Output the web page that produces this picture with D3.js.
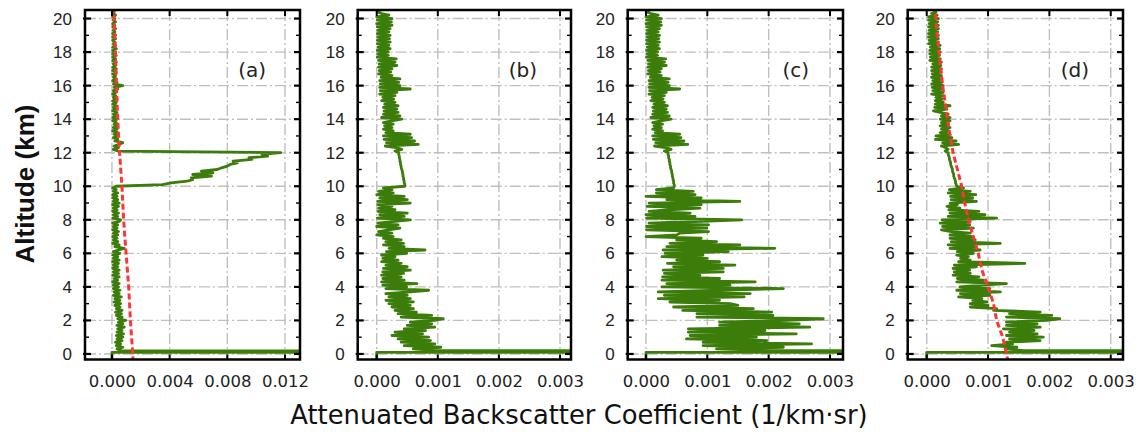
<!DOCTYPE html>
<html><head><meta charset="utf-8">
<script src="https://cdn.jsdelivr.net/npm/d3@7"></script>
<style>body{margin:0;background:#fff}</style>
</head><body>
<svg id="c" width="1138" height="434"></svg>
<script>
// ---------------- data ----------------
const yTicks = [0, 2, 4, 6, 8, 10, 12, 14, 16, 18, 20];
const xTicksA = [0, 0.004, 0.008, 0.012];
const xTicksBCD = [0, 0.001, 0.002, 0.003];
const panelLabels = ["(a)", "(b)", "(c)", "(d)"];
const xTitle = "Attenuated Backscatter Coefficient (1/km\u00B7sr)";
const yTitle = "Altitude (km)";

// profile values are in units of 1e-4 /km/sr, on range bins starting at 0.2 km, 0.1 km apart
const UNIT = 1e-4;
const binStart = 0.2, binStep = 0.1;
// surface return (altitude km, value in UNIT)
const surfaceAlt = [-0.5, 0.1, 0.1];
const surfaceVal = [0, 0, 600];

const profileA = [
  6.5,3.5,7.5,3,6,2.5,7,3.5,
  7.5,3,8,3.5,7,4,8.5,3.5,7.5,4.5,
  9.5,4,7,3,6.5,2.5,7,3,5.5,2,
  6,1.5,5.5,2,6.5,1,5,1.5,5.5,1,
  4.5,1,5,0.5,4,1.5,5,0.5,4.5,1,
  5,0.5,4,1,4.5,0.5,5,1,4,0.5,
  5.5,1,4.5,8.5,2,5,0.5,4,1,3.5,
  0.5,4,1,4.5,0.5,3.5,1,4,0.5,5,
  6,0.5,4,1,4.5,0.5,3.5,1,4.5,0.5,
  5,1,4,0.5,3.5,0.5,4,1,3,0.5,
  3,35,41,52,56,55,69,56,70,62,
  73,76,80,82,87,84,97,95,108,104,
  117,4,1,4.5,1.5,5,7.5,2,4,1,
  4.5,1.5,4,0.5,3.5,1,4,1.5,3,0.5,
  3.5,0.5,3,1,3.5,0.5,2.5,1,3,0.5,
  3,0.5,3.5,1,2.5,0.5,3,1,4,1.5,
  7.5,1,3.5,0.5,3,1,2.5,0.5,3,0.5,
  3,0.5,2.5,1,3,0.5,2.5,0.5,3,0.5,
  2.5,0.5,3,0.5,2.5,1,2,0.5,2.5,0.5,
  2.5,0.5,2,1,2.5,0.5,2,0.5,2.5,1,
  2,0.5,2.5,1,1.5,1
];

const profileBLow = [
  10,6,10.5,4.5,9.5,4,8.8,3.5,
  8.5,2.5,7.5,3,8,4.5,9.5,5,9,5.5,
  9.5,10.9,4,9,3.5,6.5,3,6,2.5,5.5,
  2,6,1.5,5.5,2,5,1.5,5.5,8.5,1.5,
  4.9,1,6.6,0.8,4.5,1,4,0.8,4.4,1,
  5.5,1.1,5,1.5,4,0.8,3.5,1,3,0.8,
  4.9,1.6,7.9,2,4.5,1.1,4.4,1.5,4,1.1,
  2.7,0,2.5,0.3,2,3.8,0,3.5,0.2,3,
  5.5,0.1,4.5,0.5,5,0.2,3,0.3,2.5,0.2,
  5.5,0.2,5,0.5,4.5,0,2.7,0.3,2.5,1.1
];

const profileBCUpper = [
  4.6,4.6,4.5,4.5,4.4,4.4,4.3,4.3,4.2,4.2,
  4.1,4.0,4.0,3.9,3.9,3.8,3.8,3.7,3.7,3.6,
  3.6,3.0,4.1,3.2,1.4,6.8,1.6,6.2,1.2,5.7,
  1.1,5.5,1.5,2.7,1.1,2.5,1.3,2.7,1.1,2.4,
  4.1,0.8,3.8,1.1,3.5,1.2,3.3,1.1,3.5,1.3,
  3.0,0.8,2.8,1.0,3.0,0.5,3.3,0.6,5.5,0.5,
  3.8,0.6,3.6,0.5,3.8,0.7,2.5,0.3,2.3,0.4,
  2.5,0.3,3.3,0.4,3.0,0.3,3.2,0.1,1.9,0.2,
  1.9,0.1,2.2,0.2,2.0,0.1,2.2,0.1,2.1,0.2,
  2.2,0.1,2.0,0.2,2.2,0.1,2.5,0,2.4,0.1,
  2.5,0,2.0,0.8,0.1,0.6
];

const profileCLow = [
  20,11.5,22.4,9.3,27,9.3,19.7,6.6,
  18,7.2,24.5,6.9,19.4,6.9,26.7,12,25,12,
  23,28.9,8.3,20.7,8.3,20.5,6,17.5,4.5,15,
  13.7,3.9,12,2,16,3,17,2,12,22.4,
  2.6,13.7,3.4,17.8,2.6,12,2.7,8.8,3,12.6,
  2.8,12.6,4.5,14.5,3.5,12,5,10,2.6,9.3,
  3.1,13.4,2.8,21,3.4,15.3,3.9,11.5,5,9,
  0,5,5.5,10.2,0.1,9.9,0.1,10.2,0.5,8,
  15.6,0.1,8,0,7.2,0.5,3.9,8.8,0.2,9,
  0.5,15.3,3.4,9,0,8,1.7,7.7,1.7,4.5
];

const profileD = [
  15.7,13,14.7,10.6,14,13,18.5,13.5,
  19,13,18,13.5,17.5,12.5,18.5,13,18,13,
  19.5,21.7,13,20.4,13.5,18.5,10.9,11.4,7.1,10,
  7.1,9.8,7.5,9,5.2,10.3,5.5,12,4.9,10.3,
  5.4,9,13,4.9,9.2,5,8.5,4.3,7.1,4.5,
  7,4.3,8.1,4.5,16,5.2,7.1,5.5,6.8,4.9,
  7.6,5,8.7,3.8,8,3.5,12,4,7.9,3.8,
  7.5,3.8,7.1,4,2.4,7.6,2.6,7,2.2,7.1,
  2.5,11.4,3.5,9.5,3.8,8.5,3.6,5.4,3.3,5,
  3.8,8.1,4,7.5,3.9,8,3.5,7.1,3.7,6,
  4.9,4.8,4.7,4.7,4.6,4.5,4.4,4.4,4.3,4.2,
  4.2,4.1,4.0,3.9,3.9,3.8,3.7,3.7,3.6,3.5,
  3.5,3.0,3.5,3.1,2.4,5.2,2.6,4.8,1.4,4.1,
  1.5,3.8,2.2,3.6,2.4,3.8,2.2,3.5,2.4,3.8,
  2.2,3.8,2.4,3.5,2.2,1.1,3.3,1.3,3.8,1.4,
  2.7,1.4,2.5,1.5,2.7,0.8,2.7,1,2.5,0.9,
  2.7,0.8,2.5,1,2.4,0.8,2.4,0.9,2.3,0.8,
  2.4,0.8,2.3,1,2.4,0.5,2.2,0.6,2.1,0.5,
  2.2,0.5,2.1,0.6,2.2,0.3,1.9,0.4,1.9,0.3,
  1.9,0.3,1.8,0.4,1.9,0.3,1.9,0.4,1.8,0.3,
  1.9,0.3,1.7,0.8,1.5,1.2
];

// molecular (red dashed) profiles, UNIT
const molAlt = [-0.5,0,1,2,3,4,5,6,7,8,9,10,11,12,13,14,15,16,17,18,19,20,20.6];
const molA = [14.6,14.4,13.6,12.8,12.2,11.6,10.7,9.8,8.9,8.1,7.5,6.9,6.1,5.3,4.6,4.0,3.5,3.1,2.7,2.4,2.0,1.6,1.4];
const molD = [13.3,13.0,12.4,11.4,10.9,10.0,9.0,8.4,7.6,6.8,6.2,5.7,5.0,4.3,3.8,3.4,3.0,2.6,2.3,2.0,1.7,1.5,1.35];

// ---------------- drawing ----------------
const svg = d3.select("#c");
const TOP = 10, BOTTOM = 359.5;
const GREEN = "#3b7c0a", RED = "#ff3535", GRID = "#bfbfbf";

const y = d3.scaleLinear().domain([-0.33, 20.51]).range([BOTTOM, TOP]);

const panels = [
  {left: 85,    right: 300,  dom: [-0.00187, 0.01304],  ticks: xTicksA,   prof: profileA, mol: molA},
  {left: 357.7, right: 571,  dom: [-0.000311, 0.00318], ticks: xTicksBCD, prof: profileBLow.concat(profileBCUpper), mol: null},
  {left: 627.7, right: 843,  dom: [-0.000298, 0.003212],ticks: xTicksBCD, prof: profileCLow.concat(profileBCUpper), mol: null},
  {left: 907.7, right: 1123, dom: [-0.00031, 0.0032],   ticks: xTicksBCD, prof: profileD, mol: molD}
];

const fmt = d3.format(".3f");

panels.forEach((p, pi) => {
  const x = d3.scaleLinear().domain(p.dom).range([p.left, p.right]);
  const g = svg.append("g");
  const clipId = "clip" + pi;
  svg.append("clipPath").attr("id", clipId).append("rect")
    .attr("x", p.left).attr("y", TOP).attr("width", p.right - p.left).attr("height", BOTTOM - TOP);

  // grid
  g.selectAll(".gx").data(p.ticks).join("line")
    .attr("x1", d => x(d)).attr("x2", d => x(d)).attr("y1", TOP).attr("y2", BOTTOM)
    .attr("stroke", GRID).attr("stroke-width", 1.4).attr("stroke-dasharray", "11,3,2,3");
  g.selectAll(".gy").data(yTicks).join("line")
    .attr("x1", p.left).attr("x2", p.right).attr("y1", d => y(d)).attr("y2", d => y(d))
    .attr("stroke", GRID).attr("stroke-width", 1.4).attr("stroke-dasharray", "11,3,2,3");

  // data
  const pts = surfaceAlt.map((a, i) => [a, surfaceVal[i] * UNIT])
    .concat(p.prof.map((v, i) => [binStart + i * binStep, v * UNIT]));
  const line = d3.line().x(d => x(d[1])).y(d => y(d[0]));
  const dg = g.append("g").attr("clip-path", `url(#${clipId})`);
  dg.append("path").datum(pts).attr("d", line)
    .attr("fill", "none").attr("stroke", GREEN).attr("stroke-width", 2.8)
    .attr("stroke-linejoin", "round");
  if (p.mol) {
    const mpts = molAlt.map((a, i) => [a, p.mol[i] * UNIT]);
    dg.append("path").datum(mpts).attr("d", d3.line().x(d => x(d[1])).y(d => y(d[0])))
      .attr("fill", "none").attr("stroke", RED).attr("stroke-width", 3)
      .attr("stroke-dasharray", "6,3");
  }

  // frame
  g.append("rect").attr("x", p.left).attr("y", TOP).attr("width", p.right - p.left).attr("height", BOTTOM - TOP)
    .attr("fill", "none").attr("stroke", "#000").attr("stroke-width", 2.5);

  // tick marks
  const km = d3.range(0, 21);
  g.selectAll(".tl").data(km).join("line")
    .attr("x1", d => d % 2 === 0 ? p.left - 2 : p.left).attr("x2", d => p.left + (d % 2 === 0 ? 6 : 4))
    .attr("y1", d => y(d)).attr("y2", d => y(d)).attr("stroke", "#000").attr("stroke-width", d => d % 2 === 0 ? 2.2 : 1.4);
  g.selectAll(".tr").data(km).join("line")
    .attr("x1", d => p.right - (d % 2 === 0 ? 6 : 4)).attr("x2", p.right)
    .attr("y1", d => y(d)).attr("y2", d => y(d)).attr("stroke", "#000").attr("stroke-width", d => d % 2 === 0 ? 2.2 : 1.4);
  g.selectAll(".tt").data(p.ticks).join("line")
    .attr("x1", d => x(d)).attr("x2", d => x(d)).attr("y1", TOP).attr("y2", TOP + 6)
    .attr("stroke", "#000").attr("stroke-width", 2);
  g.selectAll(".tb").data(p.ticks).join("line")
    .attr("x1", d => x(d)).attr("x2", d => x(d)).attr("y1", BOTTOM - 5).attr("y2", BOTTOM)
    .attr("stroke", "#000").attr("stroke-width", 2);

  // axes labels
  const ax = svg.append("g").attr("transform", `translate(0,${BOTTOM})`)
    .call(d3.axisBottom(x).tickValues(p.ticks).tickFormat(fmt).tickSize(0).tickPadding(16));
  ax.select(".domain").remove();
  ax.selectAll("text").attr("font-family", "DejaVu Sans").attr("font-size", 16.5).attr("fill", "#222");

  const ay = svg.append("g").attr("transform", `translate(${p.left},0)`)
    .call(d3.axisLeft(y).tickValues(yTicks).tickFormat(d3.format("d")).tickSize(0).tickPadding(13));
  ay.select(".domain").remove();
  ay.selectAll("text").attr("font-family", "Liberation Sans").attr("font-size", 17).attr("fill", "#222");

  // panel label
  svg.append("text").attr("x", p.right - 34).attr("y", 77).attr("text-anchor", "end")
    .attr("font-family", "DejaVu Sans").attr("font-size", 20).attr("fill", "#222")
    .text(panelLabels[pi]);
});

svg.append("text").attr("x", 579).attr("y", 424).attr("text-anchor", "middle")
  .attr("font-family", "DejaVu Sans").attr("font-size", 25.8).attr("fill", "#111").text(xTitle);

svg.append("text").attr("transform", "translate(34,184) rotate(-90)").attr("text-anchor", "middle")
  .attr("font-family", "Liberation Sans").attr("font-weight", "bold").attr("font-size", 26).attr("fill", "#111")
  .text(yTitle);
</script>
</body></html>
